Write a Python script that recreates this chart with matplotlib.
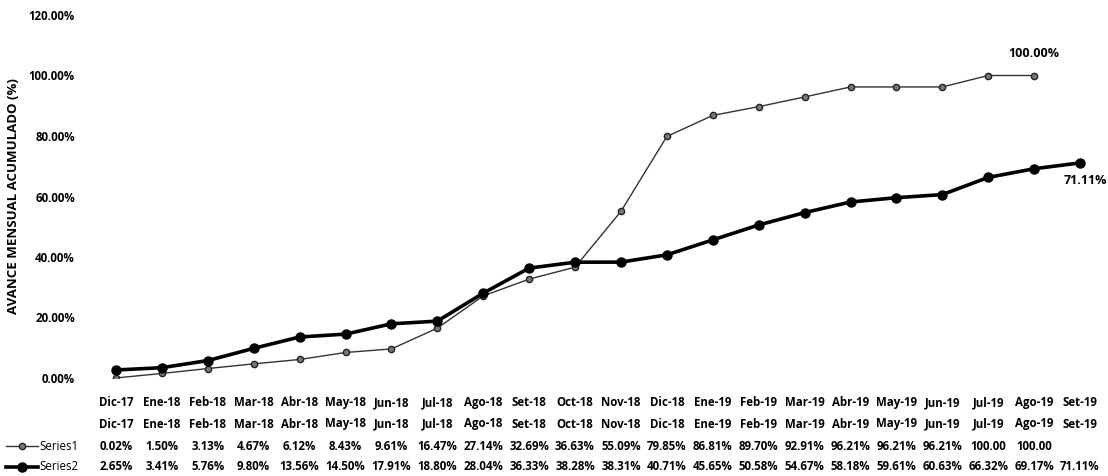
import matplotlib.pyplot as plt
from matplotlib.lines import Line2D
from matplotlib.transforms import blended_transform_factory

plt.rcParams['font.family'] = ['Open Sans', 'DejaVu Sans']
plt.rcParams['font.weight'] = 'bold'

### Datos
meses = ["Dic-17", "Ene-18", "Feb-18", "Mar-18", "Abr-18", "May-18", "Jun-18",
         "Jul-18", "Ago-18", "Set-18", "Oct-18", "Nov-18", "Dic-18", "Ene-19",
         "Feb-19", "Mar-19", "Abr-19", "May-19", "Jun-19", "Jul-19", "Ago-19", "Set-19"]
series1 = [0.02, 1.50, 3.13, 4.67, 6.12, 8.43, 9.61, 16.47, 27.14, 32.69, 36.63,
           55.09, 79.85, 86.81, 89.70, 92.91, 96.21, 96.21, 96.21, 100.00, 100.00]
series2 = [2.65, 3.41, 5.76, 9.80, 13.56, 14.50, 17.91, 18.80, 28.04, 36.33, 38.28,
           38.31, 40.71, 45.65, 50.58, 54.67, 58.18, 59.61, 60.63, 66.32, 69.17, 71.11]
yticks = [0, 20, 40, 60, 80, 100, 120]

FS = 8.3
W, H = 1108, 476
fig = plt.figure(figsize=(W / 100, H / 100), dpi=100)
ax = fig.add_axes([93 / W, 1 - 378 / H, (1103 - 93) / W, (378 - 15) / H])

x1 = list(range(len(series1)))
x2 = list(range(len(series2)))
ax.plot(x1, series1, color="#333333", lw=1.0, marker="o", ms=4.5,
        mfc="#777777", mec="#222222", mew=1.0)
ax.plot(x2, series2, color="black", lw=2.6, marker="o", ms=6.5)

ax.set_xlim(-0.5, len(meses) - 0.5)
ax.set_ylim(0, 120)
ax.set_yticks(yticks)
ax.set_yticklabels(["{:.2f}%".format(v) for v in yticks], fontsize=FS)
ax.set_xticks(range(len(meses)))
ax.set_xticklabels(meses, fontsize=FS)
ax.tick_params(length=0, pad=13)
ax.tick_params(axis="y", pad=13)
for s in ax.spines.values():
    s.set_visible(False)
ax.set_ylabel("AVANCE MENSUAL ACUMULADO (%)", fontsize=9.5, fontweight="bold", labelpad=6)

# etiquetas de datos
ax.annotate("100.00%", (x1[-1], series1[-1]), xytext=(0, 11), textcoords="offset points",
            ha="center", va="bottom", fontsize=9)
ax.annotate("71.11%", (x2[-1], series2[-1]), xytext=(4, -8), textcoords="offset points",
            ha="center", va="top", fontsize=9)

### Tabla de datos
tr = blended_transform_factory(ax.transData, fig.transFigure)
def fy(py):
    return 1 - py / H

for i, m in enumerate(meses):
    ax.text(i, fy(424), m, transform=tr, ha="center", va="center", fontsize=FS, clip_on=False)
for i, v in enumerate(series1):
    txt = "100.00" if v >= 100 else "{:.2f}%".format(v)
    ax.text(i, fy(446), txt, transform=tr, ha="center", va="center", fontsize=FS, clip_on=False)
for i, v in enumerate(series2):
    ax.text(i, fy(467), "{:.2f}%".format(v), transform=tr, ha="center", va="center",
            fontsize=FS, clip_on=False)

fig.add_artist(Line2D([6 / W, 38 / W], [fy(446), fy(446)], color="#333333", lw=1.0,
                      transform=fig.transFigure))
fig.add_artist(Line2D([22 / W], [fy(446)], marker="o", ms=4.5, mfc="#777777", mec="#222222",
                      transform=fig.transFigure))
fig.add_artist(Line2D([6 / W, 38 / W], [fy(467), fy(467)], color="black", lw=2.6,
                      transform=fig.transFigure))
fig.add_artist(Line2D([22 / W], [fy(467)], marker="o", ms=6.5, color="black",
                      transform=fig.transFigure))
fig.text(39 / W, fy(446), "Series1", ha="left", va="center", fontsize=FS, fontweight="normal")
fig.text(39 / W, fy(467), "Series2", ha="left", va="center", fontsize=FS, fontweight="normal")

fig.savefig("out.png", dpi=100)
